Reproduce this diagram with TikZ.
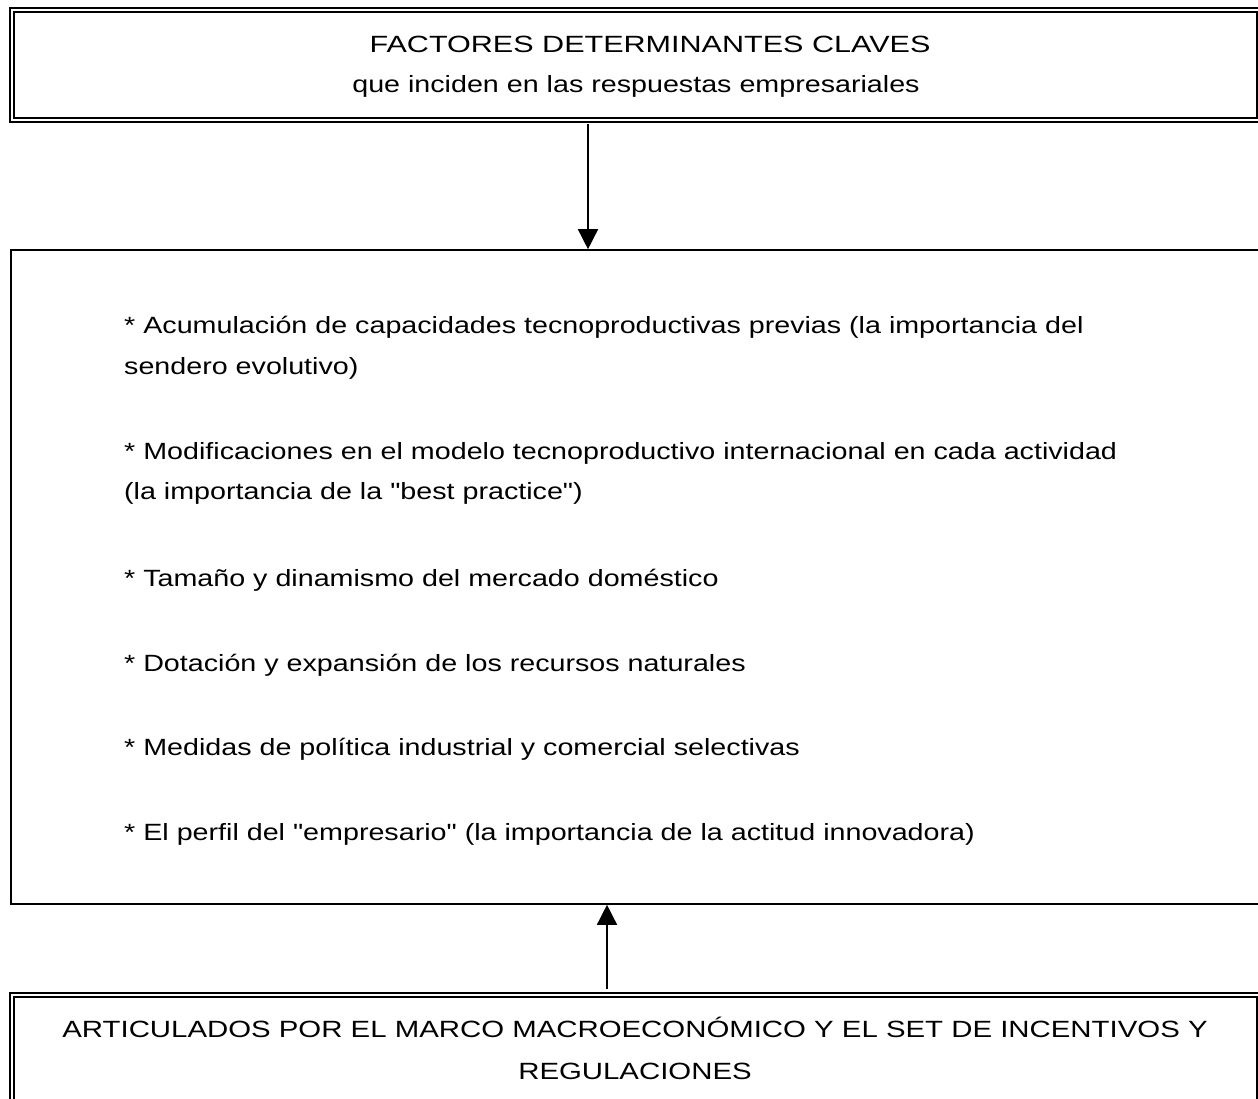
\documentclass[tikz,border=0pt]{standalone}
\usepackage{fontspec}
\newfontfamily\arialx{Liberation Sans}[FakeStretch=1.22]
\newfontfamily\arialw{Liberation Sans}[FakeStretch=1.30]
\newfontfamily\arialc{Liberation Sans}[FakeStretch=1.25]
\usetikzlibrary{arrows.meta}
\begin{document}
\begin{tikzpicture}[x=1pt,y=-1pt,
  dbox/.style={draw,double,line width=2pt,double distance=1.5pt,inner sep=0pt,rectangle},
  sbox/.style={draw,line width=1.6pt,inner sep=0pt,rectangle},
  txt/.style={inner sep=0pt,font=\arialx\fontsize{23.5}{28}\selectfont},
  captxt/.style={inner sep=0pt,font=\arialc\fontsize{23.5}{28}\selectfont},
  arr/.style={line width=1.5pt,-{Triangle[length=20pt,width=20pt]}}]
\useasboundingbox (0,0) rectangle (1258,1099);
\begin{scope}
\clip (0,0) rectangle (1258,1099);
\node[dbox,minimum width=1247pt,minimum height=110pt] (top) at (635.5,65) {};
\node[sbox,minimum width=1251pt,minimum height=654pt] (mid) at (636.5,577) {};
\node[dbox,minimum width=1247pt,minimum height=115pt] (bot) at (635.5,1052.5) {};
\end{scope}
\node[txt,anchor=base,font=\arialw\fontsize{23.5}{28}\selectfont] (t1) at (650,53) {FACTORES DETERMINANTES CLAVES};
\node[txt,anchor=base] (t2) at (636,93) {que inciden en las respuestas empresariales};
\node[txt,anchor=base west] (m1a) at (124,333) {* Acumulación de capacidades tecnoproductivas previas (la importancia del};
\node[txt,anchor=base west] (m1b) at (124,374) {sendero evolutivo)};
\node[txt,anchor=base west] (m2a) at (124,459) {* Modificaciones en el modelo tecnoproductivo internacional en cada actividad};
\node[txt,anchor=base west] (m2b) at (124,499) {(la importancia de la "best practice")};
\node[txt,anchor=base west] (m3) at (124,586) {* Tamaño y dinamismo del mercado doméstico};
\node[txt,anchor=base west] (m4) at (124,671) {* Dotación y expansión de los recursos naturales};
\node[txt,anchor=base west] (m5) at (124,755) {* Medidas de política industrial y comercial selectivas};
\node[txt,anchor=base west] (m6) at (124,840) {* El perfil del "empresario" (la importancia de la actitud innovadora)};
\node[captxt,anchor=base] (b1) at (635,1037) {ARTICULADOS POR EL MARCO MACROECONÓMICO Y EL SET DE INCENTIVOS Y};
\node[captxt,anchor=base] (b2) at (635,1079) {REGULACIONES};
\coordinate (ax1) at (588,0);
\coordinate (ax2) at (607,0);
\draw[arr] ([yshift=-3pt]top.south -| ax1) -- (mid.north -| ax1);
\draw[arr] ([yshift=5pt]bot.north -| ax2) -- (mid.south -| ax2);
\end{tikzpicture}
\end{document}
